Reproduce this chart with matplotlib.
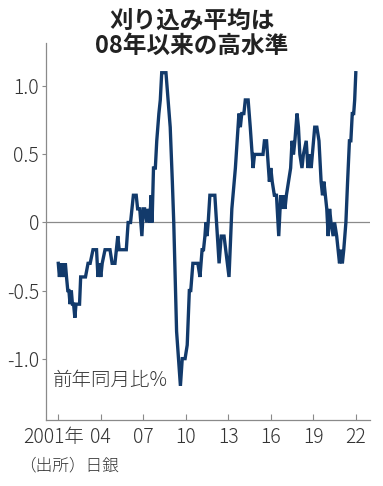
import matplotlib
matplotlib.use("Agg")
import matplotlib.pyplot as plt
import matplotlib.transforms as mtransforms

# 刈り込み平均（前年同月比%）— 折れ線の頂点（年, 値）
dates = [
    2001.00, 2001.08, 2001.17, 2001.25, 2001.33, 2001.42, 2001.50, 2001.58,
    2001.67, 2001.75, 2001.83, 2001.92, 2002.00, 2002.08, 2002.17, 2002.25,
    2002.50, 2002.58, 2002.92, 2003.10, 2003.25, 2003.45, 2003.70, 2003.80,
    2003.90, 2004.00, 2004.10, 2004.30, 2004.65, 2004.80, 2005.00, 2005.10,
    2005.20, 2005.30, 2005.80, 2005.93, 2006.10, 2006.20, 2006.30, 2006.50,
    2006.60, 2006.75, 2006.90, 2007.00, 2007.10, 2007.25, 2007.35, 2007.45,
    2007.55, 2007.62, 2007.72, 2007.85, 2007.95, 2008.10, 2008.20, 2008.30,
    2008.60, 2008.75, 2008.90, 2009.05, 2009.15, 2009.35, 2009.62, 2009.75,
    2009.95, 2010.10, 2010.25, 2010.35, 2010.50, 2010.85, 2011.00, 2011.15,
    2011.25, 2011.35, 2011.42, 2011.50, 2011.58, 2011.70, 2012.05, 2012.35,
    2012.50, 2012.70, 2013.05, 2013.25, 2013.50, 2013.75, 2013.85, 2013.95,
    2014.10, 2014.20, 2014.40, 2014.55, 2014.75, 2014.85, 2015.45, 2015.55,
    2015.70, 2015.90, 2016.00, 2016.10, 2016.25, 2016.40, 2016.56, 2016.70,
    2016.80, 2016.90, 2017.00, 2017.10, 2017.25, 2017.40, 2017.50, 2017.60,
    2017.70, 2017.85, 2017.95, 2018.05, 2018.20, 2018.30, 2018.50, 2018.62,
    2018.72, 2018.85, 2019.10, 2019.25, 2019.40, 2019.55, 2019.65, 2019.75,
    2019.85, 2019.95, 2020.05, 2020.15, 2020.25, 2020.40, 2020.50, 2020.65,
    2020.85, 2020.95, 2021.05, 2021.15, 2021.30, 2021.42, 2021.55, 2021.65,
    2021.75, 2021.85, 2021.92, 2022.00,
]
values = [
    -0.3, -0.4, -0.3, -0.4, -0.3, -0.4, -0.3, -0.4,
    -0.5, -0.5, -0.6, -0.5, -0.6, -0.6, -0.7, -0.6,
    -0.6, -0.4, -0.4, -0.3, -0.3, -0.2, -0.2, -0.4,
    -0.3, -0.4, -0.3, -0.2, -0.2, -0.3, -0.3, -0.2,
    -0.1, -0.2, -0.2, 0.0, 0.0, 0.1, 0.2, 0.2,
    0.1, 0.1, -0.1, 0.1, 0.1, 0.0, 0.1, 0.0,
    0.2, 0.0, 0.4, 0.4, 0.6, 0.8, 0.9, 1.1,
    1.1, 0.9, 0.7, 0.3, 0.0, -0.8, -1.2, -1.0,
    -1.0, -0.9, -0.5, -0.5, -0.3, -0.3, -0.4, -0.2,
    -0.2, -0.1, 0.0, -0.1, 0.0, 0.2, 0.2, -0.3,
    -0.1, -0.1, -0.4, 0.1, 0.4, 0.8, 0.7, 0.8,
    0.8, 0.9, 0.9, 0.7, 0.4, 0.5, 0.5, 0.6,
    0.6, 0.3, 0.4, 0.3, 0.2, 0.2, -0.1, 0.2,
    0.1, 0.2, 0.1, 0.2, 0.3, 0.4, 0.6, 0.5,
    0.6, 0.8, 0.7, 0.5, 0.4, 0.5, 0.6, 0.4,
    0.5, 0.4, 0.7, 0.7, 0.6, 0.3, 0.2, 0.3,
    0.2, 0.1, -0.1, 0.1, 0.0, -0.1, 0.0, -0.1,
    -0.3, -0.2, -0.3, -0.2, 0.0, 0.3, 0.6, 0.6,
    0.8, 0.8, 0.9, 1.1,
]

x_ticks = [2001, 2004, 2007, 2010, 2013, 2016, 2019, 2022]
x_labels = ["2001年", "04", "07", "10", "13", "16", "19", "22"]
y_ticks = [1.0, 0.5, 0.0, -0.5, -1.0]
y_labels = ["1.0", "0.5", "0", "-0.5", "-1.0"]

JP = ["Noto Sans CJK JP", "DejaVu Sans"]
LINE = "#123a6b"
AXIS = "#8a8a8a"
TEXT = "#333333"

fig = plt.figure(figsize=(3.83, 4.86), dpi=100)
ax = fig.add_axes([0.120, 0.136, 0.846, 0.776])

ax.axhline(0, color=AXIS, linewidth=0.9, zorder=1)
ax.plot(dates, values, color=LINE, linewidth=2.4, solid_joinstyle="miter", zorder=3)

ax.set_xlim(2000.13, 2023.0)
ax.set_ylim(-1.45, 1.32)

for side in ["top", "right"]:
    ax.spines[side].set_visible(False)
for side in ["left", "bottom"]:
    ax.spines[side].set_color(AXIS)
    ax.spines[side].set_linewidth(0.9)

ax.set_yticks(y_ticks)
ax.set_yticklabels(y_labels, family=JP, fontsize=14, fontweight="light", color=TEXT)
ax.set_xticks(x_ticks)
ax.set_xticklabels(x_labels, family=JP, fontsize=14, fontweight="light", color=TEXT)
ax.tick_params(axis="y", direction="out", length=3, width=0.8, color=AXIS, pad=2)
ax.tick_params(axis="x", direction="in", length=4, width=0.8, color=AXIS, pad=5)

# 先頭ラベル「2001年」は少し左に寄せる
lab = ax.get_xticklabels()[0]
lab.set_transform(lab.get_transform() +
                  mtransforms.ScaledTranslation(-5 / 100, 0, fig.dpi_scale_trans))

ax.text(0.02, 0.105, "前年同月比%", transform=ax.transAxes, family=JP,
        fontsize=14, fontweight="light", color=TEXT, ha="left", va="center")

fig.text(0.5, 0.957, "刈り込み平均は", family=JP, fontsize=17,
         fontweight="bold", color="#222222", ha="center", va="center")
fig.text(0.5, 0.905, "08年以来の高水準", family=JP, fontsize=17,
         fontweight="bold", color="#222222", ha="center", va="center")
fig.text(0.05, 0.041, "（出所）日銀", family=JP, fontsize=12,
         fontweight="light", color=TEXT, ha="left", va="center")

fig.savefig("out.png", dpi=100)
